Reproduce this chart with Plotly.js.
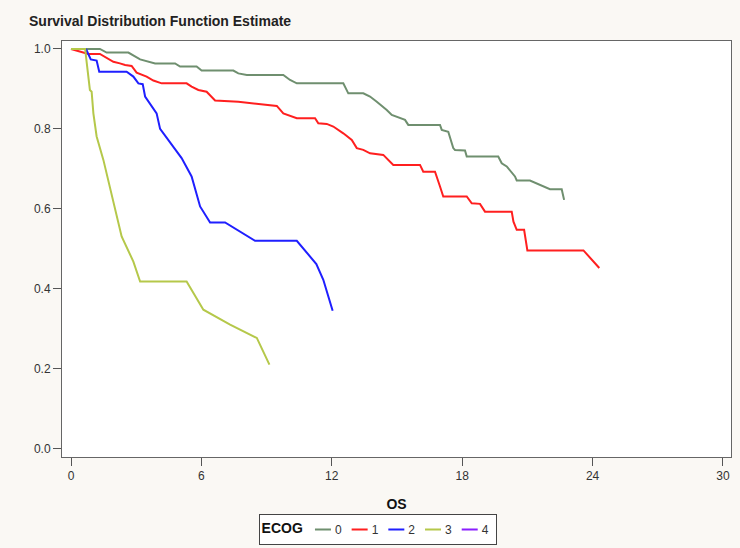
<!DOCTYPE html>
<html>
<head>
<meta charset="utf-8">
<script src="https://cdn.plot.ly/plotly-3.0.1.min.js"></script>
<style>html,body{margin:0;padding:0;background:#faf8f4;}#chart{width:740px;height:548px;}</style>
</head>
<body>
<div id="chart"></div>
<script>
// Kaplan-Meier style survival estimates
const ecogLabels = ["0", "1", "2", "3", "4"];

const os0 = [0, 1.33, 1.64, 2.64, 3.18, 3.87, 4.79, 5.02, 5.78, 6.01, 7.47, 7.70, 8.09, 9.77, 10.08, 10.39, 12.53, 12.76, 13.45, 13.76, 14.07, 14.37, 14.53, 14.76, 15.37, 15.52, 16.98, 17.06, 17.36, 17.59, 17.67, 18.13, 18.21, 19.66, 19.82, 20.05, 20.43, 20.51, 21.12, 22.04, 22.58, 22.69];
const surv0 = [1.0, 1.0, 0.991, 0.991, 0.974, 0.964, 0.964, 0.956, 0.956, 0.946, 0.946, 0.939, 0.935, 0.935, 0.9225, 0.914, 0.914, 0.889, 0.889, 0.881, 0.868, 0.856, 0.8475, 0.835, 0.8225, 0.81, 0.81, 0.7975, 0.793, 0.752, 0.7475, 0.746, 0.731, 0.731, 0.714, 0.706, 0.681, 0.671, 0.671, 0.649, 0.649, 0.6225];

const os1 = [0, 0.49, 0.80, 1.33, 1.64, 1.95, 2.25, 2.49, 2.79, 3.02, 3.48, 3.79, 4.17, 5.32, 5.55, 5.86, 6.24, 6.63, 7.70, 9.47, 9.77, 10.08, 10.39, 11.23, 11.38, 11.77, 12.07, 12.53, 12.92, 13.15, 13.45, 13.76, 14.37, 14.83, 16.06, 16.21, 16.75, 16.98, 17.13, 18.21, 18.44, 18.82, 19.05, 20.28, 20.36, 20.51, 20.85, 21.0, 23.58, 24.31];
const surv1 = [1.0, 0.993, 0.9875, 0.9875, 0.977, 0.968, 0.964, 0.96, 0.9575, 0.941, 0.931, 0.921, 0.914, 0.914, 0.906, 0.8975, 0.893, 0.871, 0.868, 0.8575, 0.839, 0.8325, 0.827, 0.827, 0.814, 0.8125, 0.806, 0.789, 0.7725, 0.752, 0.7475, 0.739, 0.735, 0.71, 0.71, 0.693, 0.693, 0.656, 0.631, 0.631, 0.614, 0.6125, 0.593, 0.593, 0.568, 0.5475, 0.5475, 0.496, 0.496, 0.452];

const os2 = [0.69, 0.91, 1.18, 1.30, 2.56, 2.87, 3.10, 3.30, 3.41, 3.71, 3.94, 4.10, 4.40, 4.71, 5.09, 5.55, 5.94, 6.40, 7.09, 8.47, 10.39, 11.29, 11.61, 12.04];
const surv2 = [1.0, 0.974, 0.971, 0.943, 0.943, 0.931, 0.914, 0.912, 0.881, 0.856, 0.839, 0.80, 0.777, 0.756, 0.727, 0.681, 0.606, 0.566, 0.566, 0.52, 0.52, 0.462, 0.4225, 0.345];

const os3 = [0, 0.65, 0.87, 0.95, 1.03, 1.18, 1.49, 1.79, 2.10, 2.33, 2.87, 3.18, 5.32, 6.09, 7.32, 8.55, 9.13];
const surv3 = [1.0, 1.0, 0.8975, 0.893, 0.839, 0.781, 0.7225, 0.656, 0.581, 0.531, 0.468, 0.418, 0.418, 0.3475, 0.31, 0.277, 0.21];

// ECOG 4: single observation at start, no visible curve
const os4 = [0];
const surv4 = [1.0];

const xTicks = [0, 6, 12, 18, 24, 30];
const yTicks = [0.0, 0.2, 0.4, 0.6, 0.8, 1.0];
const yTickText = ["0.0", "0.2", "0.4", "0.6", "0.8", "1.0"];

const colors = ["#6f8f6f", "#ff1f1f", "#1f1fff", "#b5c84a", "#8a1fff"];
const xs = [os0, os1, os2, os3, os4];
const ys = [surv0, surv1, surv2, surv3, surv4];

const traces = ecogLabels.map((lab, i) => ({
  type: "scatter",
  mode: "lines",
  x: xs[i],
  y: ys[i],
  name: lab,
  line: {color: colors[i], width: 2},
  hoverinfo: "skip"
}));

const font = "Liberation Sans, Arial, sans-serif";

const layout = {
  width: 740,
  height: 548,
  paper_bgcolor: "#faf8f4",
  plot_bgcolor: "#ffffff",
  margin: {l: 62, r: 9, t: 41, b: 91, autoexpand: false},
  font: {family: font, size: 12, color: "#333333"},
  title: {
    text: "<b>Survival Distribution Function Estimate</b>",
    font: {family: font, size: 14, color: "#222222"},
    x: 29 / 740, xanchor: "left", xref: "container",
    y: 1 - 21 / 548, yanchor: "middle", yref: "container"
  },
  xaxis: {
    range: [-0.414, 30.37],
    tickvals: xTicks,
    ticktext: xTicks.map(String),
    ticks: "outside", ticklen: 8, tickcolor: "#555555", tickwidth: 1,
    showline: true, linecolor: "#666666", linewidth: 1, mirror: true,
    showgrid: false, zeroline: false,
    tickfont: {family: font, size: 12, color: "#333333"},
    title: {text: "<b>OS</b>", font: {family: font, size: 14, color: "#111111"}, standoff: 16}
  },
  yaxis: {
    range: [-0.021, 1.02],
    tickvals: yTicks,
    ticktext: yTickText,
    ticks: "outside", ticklen: 8, tickcolor: "#555555", tickwidth: 1,
    showline: true, linecolor: "#666666", linewidth: 1, mirror: true,
    showgrid: false, zeroline: false,
    tickfont: {family: font, size: 12, color: "#333333"}
  },
  showlegend: true,
  legend: {
    orientation: "h",
    x: (378 - 62) / 669, xanchor: "center",
    y: (457 - 514) / 416, yanchor: "top",
    bgcolor: "#ffffff",
    bordercolor: "#444444", borderwidth: 1,
    font: {family: font, size: 12, color: "#333333"},
    title: {text: "<b>ECOG</b>", side: "left", font: {family: font, size: 14, color: "#111111"}},
    itemwidth: 30,
    tracegroupgap: 0
  }
};

Plotly.newPlot("chart", traces, layout, {displayModeBar: false, staticPlot: true}).then(gd => {
  // compact the legend entries (shorter line samples, tighter spacing)
  try {
    const leg = gd.querySelector("g.legend");
    const items = leg.querySelectorAll("g.traces");
    let x = null;
    items.forEach(g => {
      const m = (g.getAttribute("transform") || "").match(/translate\(\s*([-\d.]+)[ ,]+([-\d.]+)\s*\)/);
      if (!m) return;
      if (x === null) x = parseFloat(m[1]);
      g.setAttribute("transform", "translate(" + x + "," + m[2] + ")");
      g.querySelectorAll("path.js-line").forEach(p => p.setAttribute("d", "M4,0h16"));
      const t = g.querySelector("text.legendtext");
      t.setAttribute("x", 24);
      t.querySelectorAll("tspan").forEach(s => { if (s.hasAttribute("x")) s.setAttribute("x", 24); });
      x += 24 + t.getComputedTextLength() + 6;
    });
    const bg = leg.querySelector("rect.bg");
    const oldW = parseFloat(bg.getAttribute("width"));
    const newW = x + 2;
    bg.setAttribute("width", newW);
    const lm = (leg.getAttribute("transform") || "").match(/translate\(\s*([-\d.]+)[ ,]+([-\d.]+)\s*\)/);
    if (lm) {
      leg.setAttribute("transform", "translate(" + (parseFloat(lm[1]) + (oldW - newW) / 2) + "," + lm[2] + ")");
    }
  } catch (e) { console.log(e); }
});
</script>
</body>
</html>
